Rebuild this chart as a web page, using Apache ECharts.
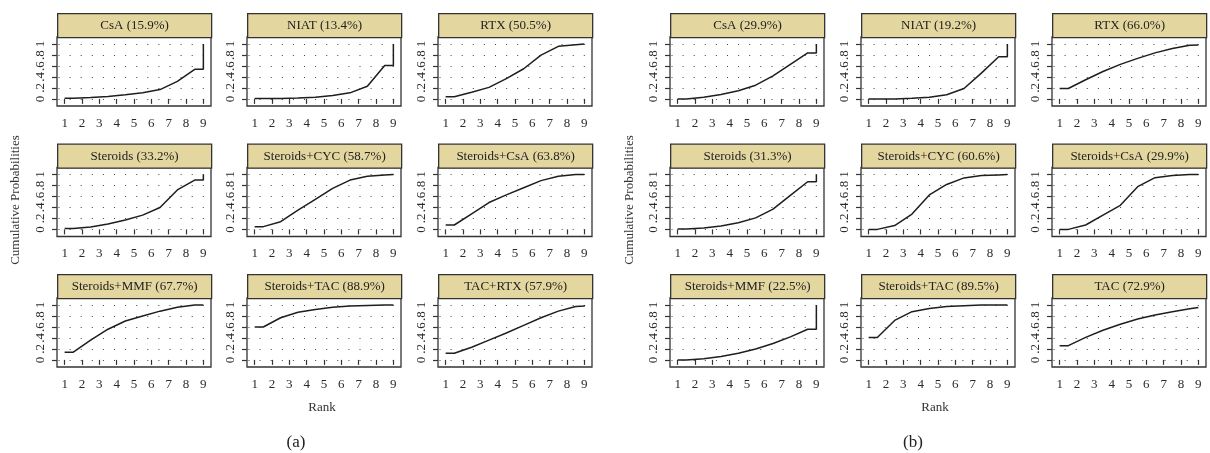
<!DOCTYPE html>
<html>
<head>
<meta charset="utf-8">
<script src="https://cdn.jsdelivr.net/npm/echarts@6.0.0/dist/echarts.min.js"></script>
<style>
  html, body { margin: 0; padding: 0; background: #fff; }
  #main { width: 1210px; height: 453px; }
</style>
</head>
<body>
<div id="main"></div>
<script>
// rank ticks and probability ticks
const ranks = [1, 2, 3, 4, 5, 6, 7, 8, 9]
const probTicks = [0, 0.2, 0.4, 0.6, 0.8, 1]
// x positions of the curve vertices (rank scale)
const rankPos = [1, 1.5, 2.5, 3.5, 4.5, 5.5, 6.5, 7.5, 8.5, 9, 9]

// panel (a)
const titlesA = ['CsA (15.9%)', 'NIAT (13.4%)', 'RTX (50.5%)',
  'Steroids (33.2%)', 'Steroids+CYC (58.7%)', 'Steroids+CsA (63.8%)',
  'Steroids+MMF (67.7%)', 'Steroids+TAC (88.9%)', 'TAC+RTX (57.9%)']
const csaA = [0.01, 0.01, 0.025, 0.045, 0.075, 0.11, 0.17, 0.32, 0.54, 0.54, 1]
const niatA = [0.005, 0.005, 0.005, 0.015, 0.03, 0.06, 0.11, 0.23, 0.61, 0.61, 1]
const rtxA = [0.04, 0.04, 0.12, 0.21, 0.37, 0.55, 0.80, 0.96, 0.99, 1, 1]
const steroidsA = [0.015, 0.015, 0.045, 0.10, 0.17, 0.26, 0.40, 0.72, 0.90, 0.90, 1]
const sCycA = [0.05, 0.05, 0.14, 0.35, 0.55, 0.75, 0.90, 0.97, 0.995, 1, 1]
const sCsaA = [0.08, 0.08, 0.285, 0.49, 0.63, 0.76, 0.89, 0.97, 1, 1, 1]
const sMmfA = [0.14, 0.14, 0.36, 0.56, 0.71, 0.80, 0.89, 0.96, 1, 1, 1]
const sTacA = [0.6, 0.6, 0.77, 0.87, 0.92, 0.96, 0.985, 0.995, 1, 1, 1]
const tacRtxA = [0.12, 0.12, 0.23, 0.36, 0.49, 0.63, 0.77, 0.89, 0.975, 0.985, 1]

// panel (b)
const titlesB = ['CsA (29.9%)', 'NIAT (19.2%)', 'RTX (66.0%)',
  'Steroids (31.3%)', 'Steroids+CYC (60.6%)', 'Steroids+CsA (29.9%)',
  'Steroids+MMF (22.5%)', 'Steroids+TAC (89.5%)', 'TAC (72.9%)']
const csaB = [0, 0, 0.03, 0.08, 0.15, 0.25, 0.42, 0.63, 0.84, 0.84, 1]
const niatB = [0, 0, 0, 0.01, 0.03, 0.075, 0.19, 0.47, 0.77, 0.77, 1]
const rtxB = [0.19, 0.19, 0.35, 0.50, 0.63, 0.74, 0.84, 0.92, 0.98, 0.985, 0.985]
const steroidsB = [0.005, 0.005, 0.025, 0.06, 0.12, 0.21, 0.37, 0.62, 0.87, 0.87, 1]
const sCycB = [0, 0, 0.07, 0.28, 0.63, 0.82, 0.94, 0.985, 0.995, 1, 1]
const sCsaB = [0, 0, 0.08, 0.26, 0.44, 0.78, 0.945, 0.985, 1, 1, 1]
const sMmfB = [0, 0, 0.02, 0.06, 0.12, 0.2, 0.3, 0.42, 0.56, 0.56, 1]
const sTacB = [0.41, 0.41, 0.72, 0.88, 0.94, 0.975, 0.99, 1, 1, 1, 1]
const tacB = [0.26, 0.26, 0.41, 0.54, 0.65, 0.745, 0.82, 0.88, 0.935, 0.955, 0.955]

const panels = [
  { titles: titlesA, curves: [csaA, niatA, rtxA, steroidsA, sCycA, sCsaA, sMmfA, sTacA, tacRtxA],
    cols: [57, 247, 438], ylab: 16, xlab: 322, tag: '(a)', tagX: 296 },
  { titles: titlesB, curves: [csaB, niatB, rtxB, steroidsB, sCycB, sCsaB, sMmfB, sTacB, tacB],
    cols: [670, 861, 1052], ylab: 630, xlab: 935, tag: '(b)', tagX: 913 }
]
const rowTop = [13, 143.5, 274]
const W = 154, HH = 24, PH = 69
const FONT = 'Liberation Serif'

var myChart = echarts.init(document.getElementById('main'))

let grid = [], xAxis = [], yAxis = [], series = [], graphic = []
let k = 0
panels.forEach(p => {
  p.curves.forEach((vals, i) => {
    const left = p.cols[i % 3]
    const top = rowTop[Math.floor(i / 3)]
    grid.push({
      left: left, top: top + HH, width: W, height: PH,
      show: true, borderColor: '#333', borderWidth: 1.3, backgroundColor: '#fff',
      containLabel: false, outerBoundsMode: 'none'
    })
    xAxis.push({
      type: 'value', gridIndex: k, min: 0.56, max: 9.44,
      axisLine: { show: false },
      axisTick: { show: true, inside: false, length: 5, customValues: ranks,
        lineStyle: { color: '#333', width: 1.2 } },
      axisLabel: { customValues: ranks, margin: 11, color: '#2a2a2a', fontFamily: FONT, fontSize: 13 },
      splitLine: { show: false }
    })
    yAxis.push({
      type: 'value', gridIndex: k, min: -0.13, max: 1.13,
      axisLine: { show: false },
      axisTick: { show: true, inside: false, length: 5, customValues: probTicks,
        lineStyle: { color: '#333', width: 1.2 } },
      axisLabel: {
        customValues: probTicks, rotate: 90, margin: 10, color: '#2a2a2a',
        fontFamily: FONT, fontSize: 13,
        formatter: v => (v === 0 ? '0' : v === 1 ? '1' : String(+v.toFixed(1)).replace('0.', '.'))
      },
      splitLine: { show: true, lineStyle: { color: '#444', width: 1.2, type: [1, 10.1], dashOffset: 9.6 } }
    })
    series.push({
      type: 'line', xAxisIndex: k, yAxisIndex: k,
      data: rankPos.map((r, j) => [r, vals[j]]),
      showSymbol: false, symbol: 'none', silent: true,
      lineStyle: { color: '#1e1e1e', width: 1.5 }
    })
    // strip header
    graphic.push({
      type: 'group', left: left, top: top, silent: true,
      children: [
        { type: 'rect', shape: { x: 0, y: 0, width: W, height: HH },
          style: { fill: '#e3d69f', stroke: '#333', lineWidth: 1.3 } },
        { type: 'text', x: W / 2, y: HH / 2,
          style: { text: p.titles[i], font: '13px "' + FONT + '"', fill: '#222',
            textAlign: 'center', textVerticalAlign: 'middle' } }
      ]
    })
    k++
  })
  graphic.push({
    type: 'text', x: p.ylab, y: 200, rotation: Math.PI / 2, silent: true,
    style: { text: 'Cumulative Probabilities', font: '13px "' + FONT + '"', fill: '#333',
      textAlign: 'center', textVerticalAlign: 'middle' }
  })
  graphic.push({
    type: 'text', x: p.xlab, y: 408, silent: true,
    style: { text: 'Rank', font: '13px "' + FONT + '"', fill: '#333',
      textAlign: 'center', textVerticalAlign: 'middle' }
  })
  graphic.push({
    type: 'text', x: p.tagX, y: 443, silent: true,
    style: { text: p.tag, font: '17px "' + FONT + '"', fill: '#222',
      textAlign: 'center', textVerticalAlign: 'middle' }
  })
})

myChart.setOption({
  animation: false,
  backgroundColor: '#fff',
  grid: grid,
  xAxis: xAxis,
  yAxis: yAxis,
  series: series,
  graphic: graphic
})
</script>
</body>
</html>
